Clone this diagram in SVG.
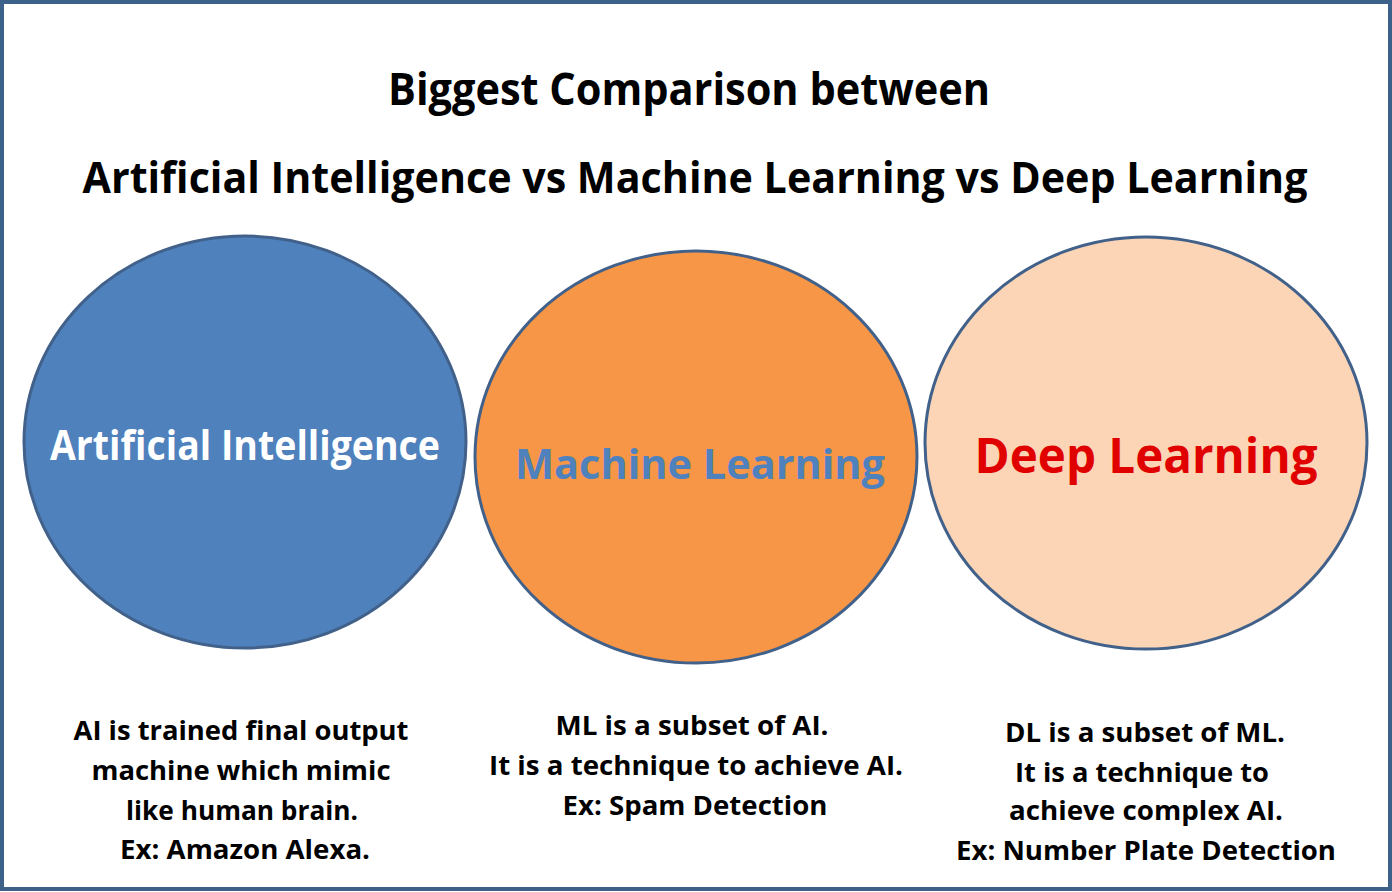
<svg xmlns="http://www.w3.org/2000/svg" width="1392" height="892" viewBox="0 0 1392 892">
<style>
text{font-family:"Open Sans","Noto Sans","DejaVu Sans",sans-serif;font-weight:bold;text-anchor:middle}
.title{font-size:44px;fill:#000}
.desc{font-size:27px;fill:#000}
.circ{stroke:#41618A;stroke-width:3}
.lbl{font-size:42px}
</style>
<rect x="0" y="0" width="1392" height="892" fill="#FFFFFF"/>
<rect x="2" y="2" width="1388" height="887" fill="none" stroke="#3E6189" stroke-width="4"/>
<g id="title">
<text class="title" x="689" y="105" textLength="602" lengthAdjust="spacingAndGlyphs">Biggest Comparison between</text>
<text class="title" x="695" y="193" textLength="1225" lengthAdjust="spacingAndGlyphs" style="font-size:43px">Artificial Intelligence vs Machine Learning vs Deep Learning</text>
</g>
<g id="node-ai">
<ellipse class="circ" cx="245" cy="442" rx="221" ry="206" fill="#4F81BD"/>
<text class="lbl" x="245" y="460" fill="#FFFFFF" textLength="390" lengthAdjust="spacingAndGlyphs">Artificial Intelligence</text>
<text class="desc" x="241" y="740" textLength="335" lengthAdjust="spacingAndGlyphs">AI is trained final output</text>
<text class="desc" x="241" y="780" textLength="299" lengthAdjust="spacingAndGlyphs">machine which mimic</text>
<text class="desc" x="242" y="820" textLength="232" lengthAdjust="spacingAndGlyphs">like human brain.</text>
<text class="desc" x="245" y="859" textLength="250" lengthAdjust="spacingAndGlyphs">Ex: Amazon Alexa.</text>
</g>
<g id="node-ml">
<ellipse class="circ" cx="696" cy="457" rx="221" ry="206" fill="#F79646"/>
<text class="lbl" x="700" y="479" fill="#4F81BD" textLength="370" lengthAdjust="spacingAndGlyphs">Machine Learning</text>
<text class="desc" x="692" y="735" textLength="273" lengthAdjust="spacingAndGlyphs">ML is a subset of AI.</text>
<text class="desc" x="696" y="775" textLength="414" lengthAdjust="spacingAndGlyphs">It is a technique to achieve AI.</text>
<text class="desc" x="695" y="815" textLength="265" lengthAdjust="spacingAndGlyphs">Ex: Spam Detection</text>
</g>
<g id="node-dl">
<ellipse class="circ" cx="1146" cy="443" rx="221" ry="206" fill="#FBD5B5"/>
<text class="lbl" x="1146" y="473" fill="#E00000" textLength="343" lengthAdjust="spacingAndGlyphs" style="font-size:48px">Deep Learning</text>
<text class="desc" x="1145" y="742" textLength="280" lengthAdjust="spacingAndGlyphs">DL is a subset of ML.</text>
<text class="desc" x="1142" y="782" textLength="254" lengthAdjust="spacingAndGlyphs">It is a technique to</text>
<text class="desc" x="1146" y="820" textLength="274" lengthAdjust="spacingAndGlyphs">achieve complex AI.</text>
<text class="desc" x="1146" y="860" textLength="380" lengthAdjust="spacingAndGlyphs">Ex: Number Plate Detection</text>
</g>
<g id="connectors"/>
</svg>
